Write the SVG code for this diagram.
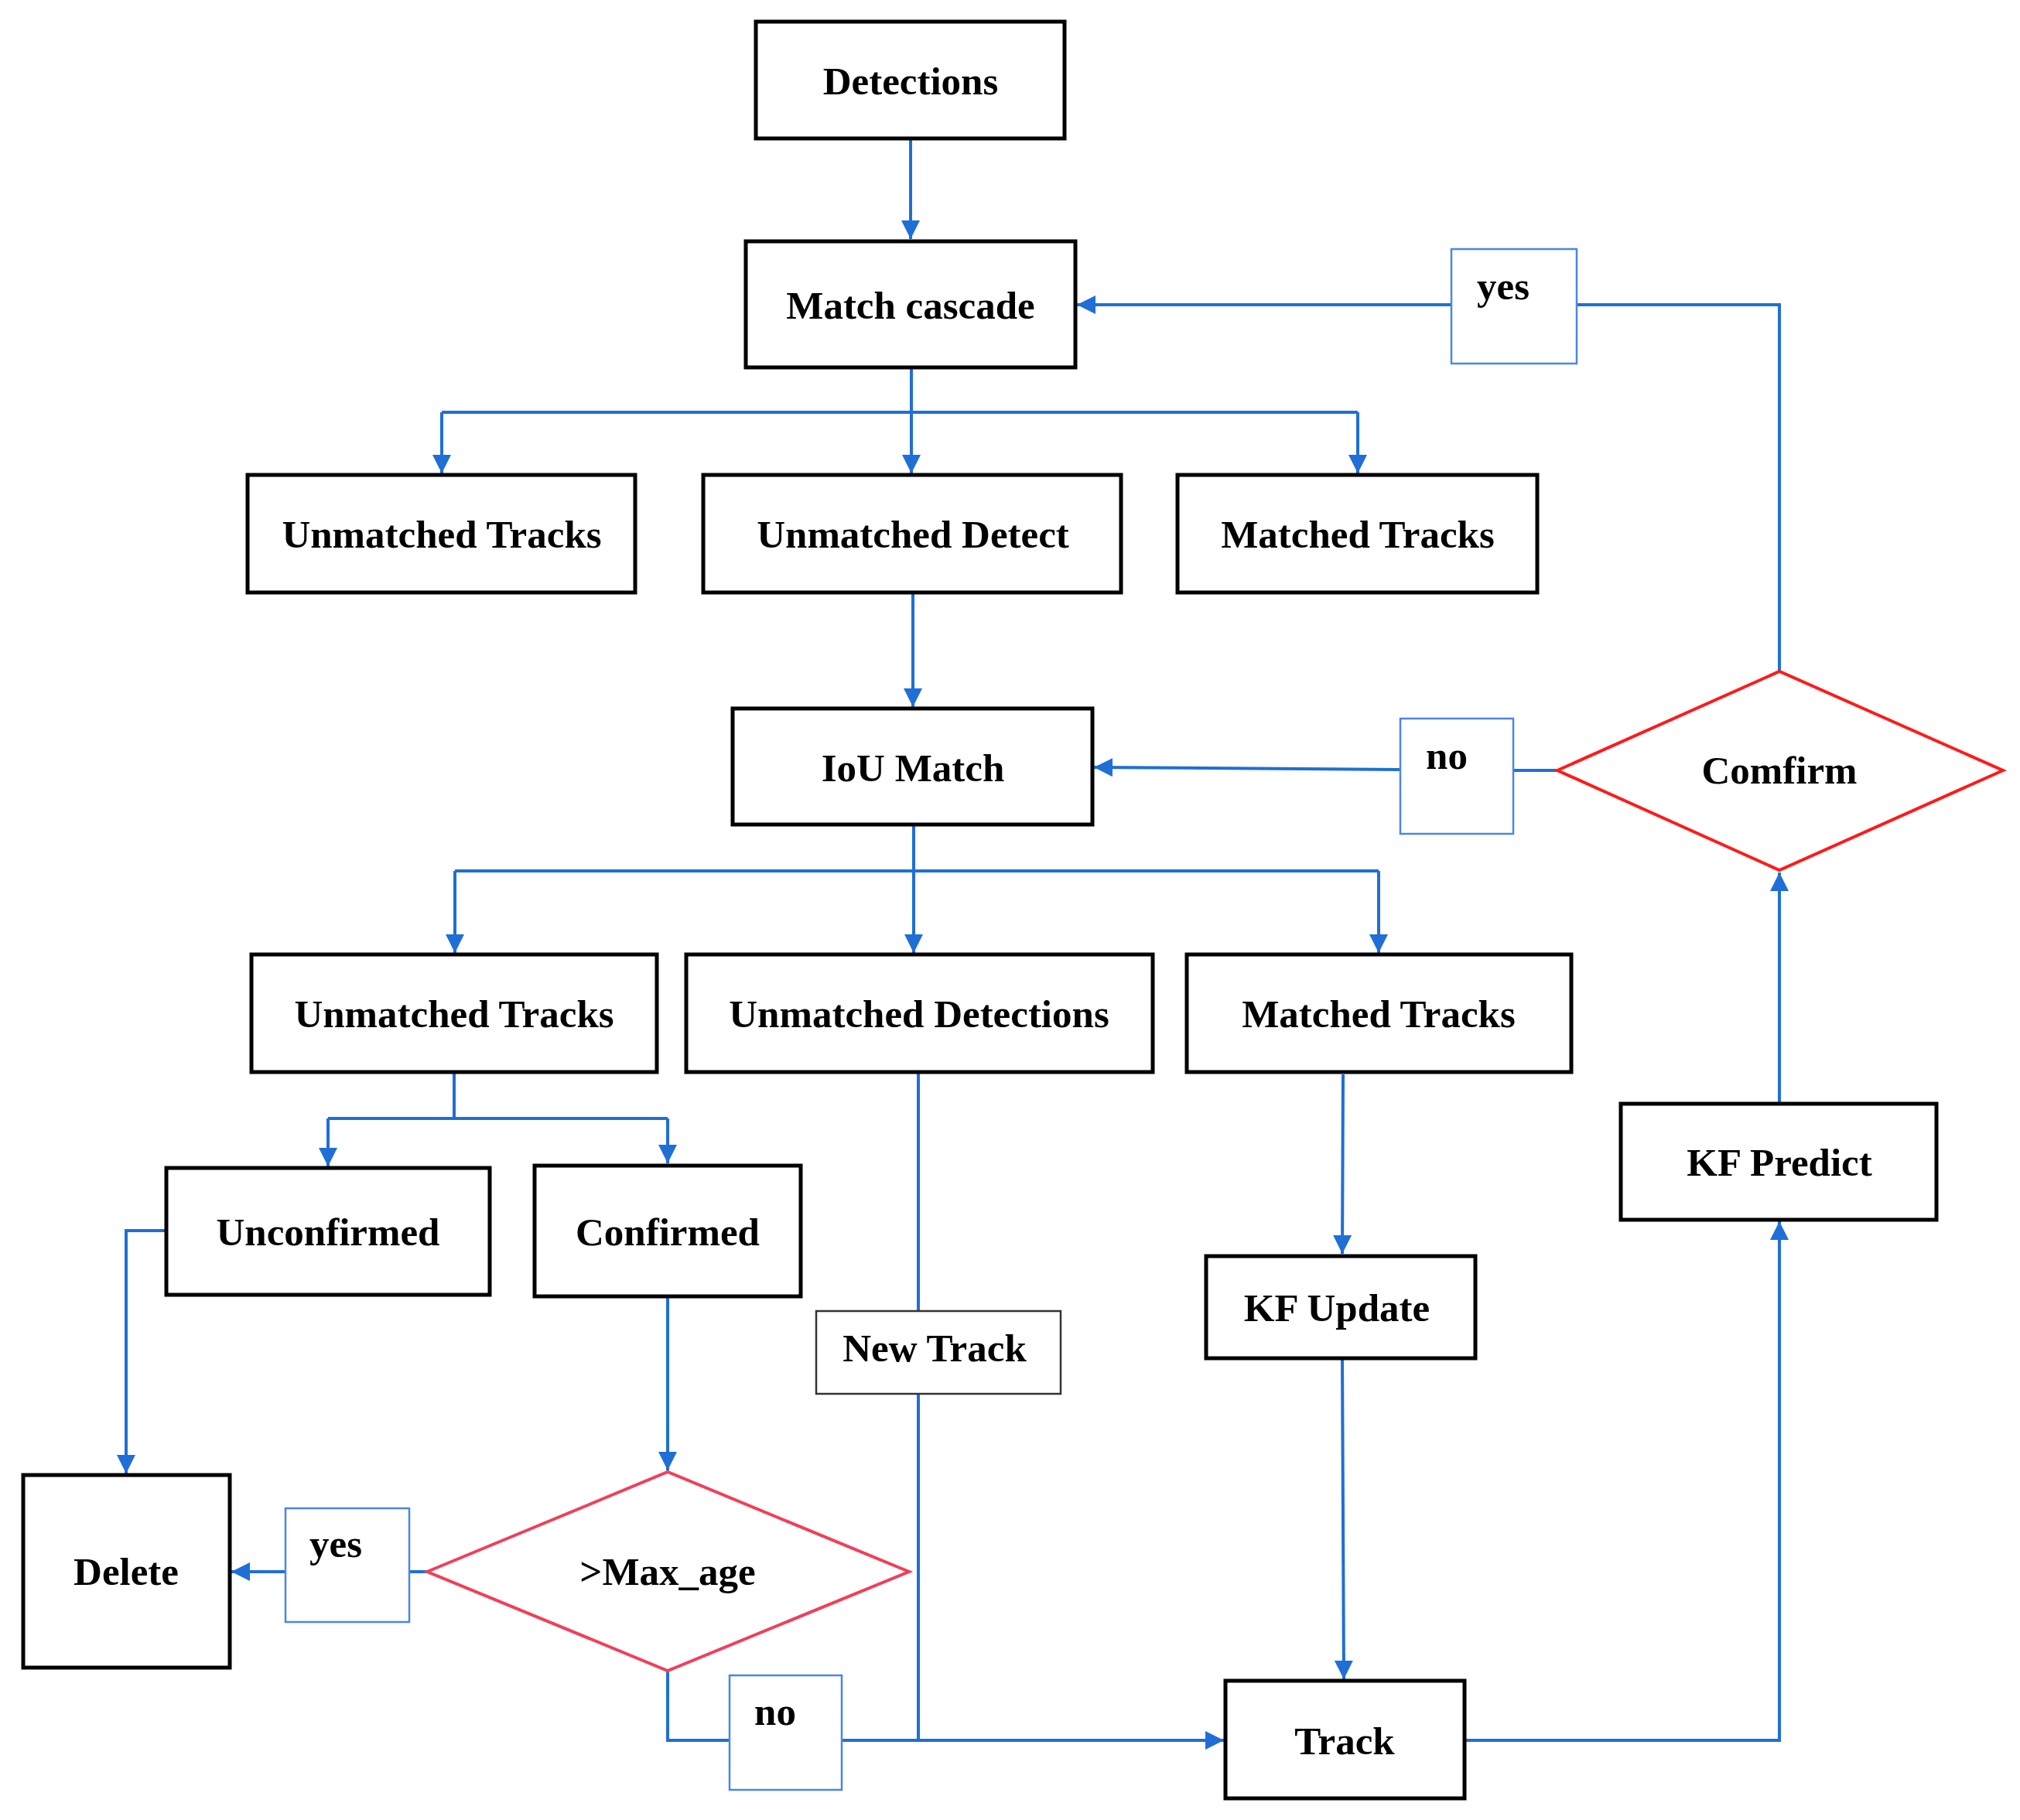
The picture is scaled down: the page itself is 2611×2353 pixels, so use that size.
<svg xmlns="http://www.w3.org/2000/svg" width="2611" height="2353" viewBox="0 0 2611 2353">
<style>
.box{fill:#fff;stroke:#000;stroke-width:5}
.lbl{fill:#fff;stroke:#4a86e8;stroke-width:2.5}
.nt{fill:#fff;stroke:#333;stroke-width:2.5}
.t{font-family:"Liberation Serif","Times New Roman",serif;font-weight:bold;font-size:51px;fill:#000;text-anchor:middle}
.c{fill:none;stroke:#1f6fd6;stroke-width:4}
.ca{fill:none;stroke:#1f6fd6;stroke-width:4;marker-end:url(#ah)}
</style>
<defs>
<marker id="ah" markerUnits="userSpaceOnUse" markerWidth="24" markerHeight="24" viewBox="0 0 24 24" refX="24" refY="12" orient="auto">
<path d="M0,0 L24,12 L0,24 z" fill="#1f6fd6"/>
</marker>
</defs>
<rect width="2611" height="2353" fill="#fff"/>
<g id="connectors">
<path class="ca" d="M1177,180 V309"/>
<path class="c" d="M2300,868 V394 H2038"/>
<path class="ca" d="M1876,394 H1392"/>
<path class="ca" d="M1178,475 V612"/>
<path class="c" d="M571,533 H1755"/>
<path class="ca" d="M571,533 V612"/>
<path class="ca" d="M1755,533 V612"/>
<path class="ca" d="M1180,766 V914"/>
<path class="c" d="M2012,996 H1956"/>
<path class="ca" d="M1810,995 L1414,992"/>
<path class="ca" d="M1181,1066 V1232"/>
<path class="c" d="M588,1126 H1782"/>
<path class="ca" d="M588,1126 V1232"/>
<path class="ca" d="M1782,1126 V1232"/>
<path class="c" d="M587,1387 V1446"/>
<path class="c" d="M424,1446 H863"/>
<path class="ca" d="M424,1446 V1508"/>
<path class="ca" d="M863,1446 V1504"/>
<path class="ca" d="M215,1591 H163 V1905"/>
<path class="ca" d="M863,1677 V1901"/>
<path class="c" d="M552,2032 H529"/>
<path class="ca" d="M369,2032 H299"/>
<path class="c" d="M863,2160 V2250 H943"/>
<path class="ca" d="M1088,2250 H1582"/>
<path class="c" d="M1187,1387 V1695"/>
<path class="c" d="M1187,1802 V2250"/>
<path class="ca" d="M1736,1389 L1735,1621"/>
<path class="ca" d="M1735,1757 L1737,2171"/>
<path class="ca" d="M1893,2250 H2300 V1579"/>
<path class="ca" d="M2300,1427 V1128"/>
</g>
<g id="detections"><rect class="box" x="977" y="28" width="399" height="151"/><text class="t" x="1177" y="122">Detections</text></g>
<g id="match-cascade"><rect class="box" x="964" y="312" width="426" height="163"/><text class="t" x="1177" y="412">Match cascade</text></g>
<g id="yes-top"><rect class="lbl" x="1876" y="322" width="162" height="148"/><text class="t" x="1943" y="387">yes</text></g>
<g id="unmatched-tracks-1"><rect class="box" x="320" y="614" width="501" height="152"/><text class="t" x="571" y="708">Unmatched Tracks</text></g>
<g id="unmatched-detect"><rect class="box" x="909" y="614" width="540" height="152"/><text class="t" x="1180" y="708">Unmatched Detect</text></g>
<g id="matched-tracks-1"><rect class="box" x="1522" y="614" width="465" height="152"/><text class="t" x="1755" y="708">Matched Tracks</text></g>
<g id="iou-match"><rect class="box" x="947" y="916" width="465" height="150"/><text class="t" x="1180" y="1010">IoU Match</text></g>
<g id="no-top"><rect class="lbl" x="1810" y="929" width="146" height="149"/><text class="t" x="1870" y="994">no</text></g>
<g id="confirm"><polygon points="2013,996 2300,868 2589,996 2300,1125" fill="#fff" stroke="#ff1a1a" stroke-width="4"/><text class="t" x="2300" y="1013">Comfirm</text></g>
<g id="unmatched-tracks-2"><rect class="box" x="325" y="1234" width="524" height="152"/><text class="t" x="587" y="1328">Unmatched Tracks</text></g>
<g id="unmatched-detections"><rect class="box" x="887" y="1234" width="603" height="152"/><text class="t" x="1188" y="1328">Unmatched Detections</text></g>
<g id="matched-tracks-2"><rect class="box" x="1534" y="1234" width="497" height="152"/><text class="t" x="1782" y="1328">Matched Tracks</text></g>
<g id="unconfirmed"><rect class="box" x="215" y="1510" width="418" height="164"/><text class="t" x="424" y="1610">Unconfirmed</text></g>
<g id="confirmed"><rect class="box" x="691" y="1507" width="344" height="169"/><text class="t" x="863" y="1610">Confirmed</text></g>
<g id="new-track"><rect class="nt" x="1055" y="1695" width="316" height="107"/><text class="t" x="1208" y="1760">New Track</text></g>
<g id="kf-update"><rect class="box" x="1559" y="1624" width="348" height="132"/><text class="t" x="1728" y="1708">KF Update</text></g>
<g id="kf-predict"><rect class="box" x="2095" y="1427" width="408" height="150"/><text class="t" x="2300" y="1520">KF Predict</text></g>
<g id="delete"><rect class="box" x="30" y="1907" width="267" height="249"/><text class="t" x="163" y="2049">Delete</text></g>
<g id="yes-bottom"><rect class="lbl" x="369" y="1950" width="160" height="147"/><text class="t" x="434" y="2013">yes</text></g>
<g id="max-age"><polygon points="552,2032 863,1903 1175,2032 863,2160" fill="#fff" stroke="#f0405a" stroke-width="4"/><text class="t" x="863" y="2049">&gt;Max_age</text></g>
<g id="no-bottom"><rect class="lbl" x="943" y="2166" width="145" height="148"/><text class="t" x="1002" y="2230">no</text></g>
<g id="track"><rect class="box" x="1584" y="2173" width="309" height="152"/><text class="t" x="1738" y="2268">Track</text></g>
</svg>
